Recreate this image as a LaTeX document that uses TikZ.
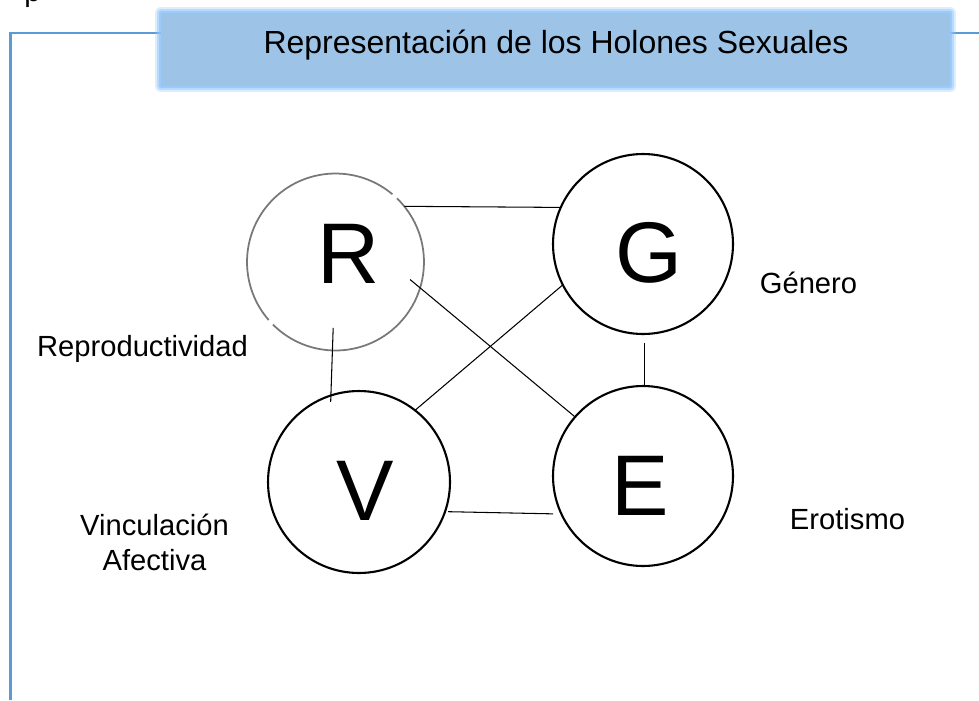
\documentclass[tikz,border=0pt]{standalone}
\usepackage{fontspec}
\setmainfont{Liberation Sans}
\usetikzlibrary{shapes}

\definecolor{frameblue}{RGB}{91,155,213}
\definecolor{titlefill}{RGB}{157,195,230}
\definecolor{glowblue}{RGB}{140,195,250}
\definecolor{ringgray}{RGB}{120,120,120}

\begin{document}
\begin{tikzpicture}[x=0.02cm, y=-0.02cm]
\tikzstyle{nd}=[circle, draw=black, line width=1.2pt, outer sep=0pt, inner sep=0pt]
\tikzstyle{lt}=[font=\fontsize{49}{49}\selectfont, inner sep=0pt]
\tikzstyle{lbl}=[font=\fontsize{16.6}{19.8}\selectfont, inner sep=0pt, align=center]
\tikzstyle{ttl}=[font=\fontsize{18.2}{22}\selectfont, inner sep=0pt]
\tikzstyle{tbox}=[rectangle, fill=titlefill, inner sep=0pt, outer sep=0pt,
  minimum width=15.78cm, minimum height=1.46cm, line join=round,
  preaction={draw=glowblue, line width=7pt, opacity=.3},
  preaction={draw=glowblue, line width=4.5pt, opacity=.45},
  preaction={draw=glowblue, line width=2pt, opacity=.65}]
\tikzstyle{ln}=[draw=black, line width=0.6pt]
\useasboundingbox (0,0) rectangle (979,700);

% frame and title
\node[lbl, anchor=base west] (cut) at (24,1) {p};
\draw[frameblue, line width=1.6pt] (979,33) -- (10.5,33) -- (10.5,700);
\node[tbox] (title) at (555.5,49.5) {};
\node[ttl, anchor=base] (ttext) at (556,53) {Representación de los Holones Sexuales};

% holons
\node[nd, draw=none, minimum size=3.54cm] (R) at (335.5,262) {};
\draw[ringgray, line width=1pt] (R.50) arc[start angle=50, end angle=221, radius=1.77cm];
\draw[ringgray, line width=1pt] (R.225) arc[start angle=225, end angle=406, radius=1.77cm];
\node[nd, minimum size=3.6cm]  (G) at (643,244) {};
\node[nd, minimum size=3.64cm] (V) at (359,482) {};
\node[nd, minimum size=3.6cm]  (E) at (643,476) {};

\node[lt] (Rt) at (348.5,253.5) {R};
\node[lt] (Gt) at (649,252.5)   {G};
\node[lt] (Vt) at (365,491)     {V};
\node[lt] (Et) at (640,486)     {E};

\node[lbl, anchor=base] (repro) at (142.5,356) {Reproductividad};
\node[lbl, anchor=base] (gen)   at (808.5,293) {Género};
\node[lbl, anchor=base] (vinc)  at (154.5,570) {Vinculación\\Afectiva};
\node[lbl, anchor=base] (ero)   at (847.5,529) {Erotismo};

\path[ln]
(R.39)  edge                                        (G.156)
(R.-17) edge [shorten <=-7.4pt]                     (E.139)
(R.268) edge [shorten <=-12.8pt, shorten >=-3.7pt]  (V.108)
(G.207) edge                                        (V.52)
(G.-89) edge [shorten <=5.1pt]                      (E.89)
(V.-19) edge [shorten <=1.7pt, shorten >=4.8pt]     (E.205);
\end{tikzpicture}
\end{document}
